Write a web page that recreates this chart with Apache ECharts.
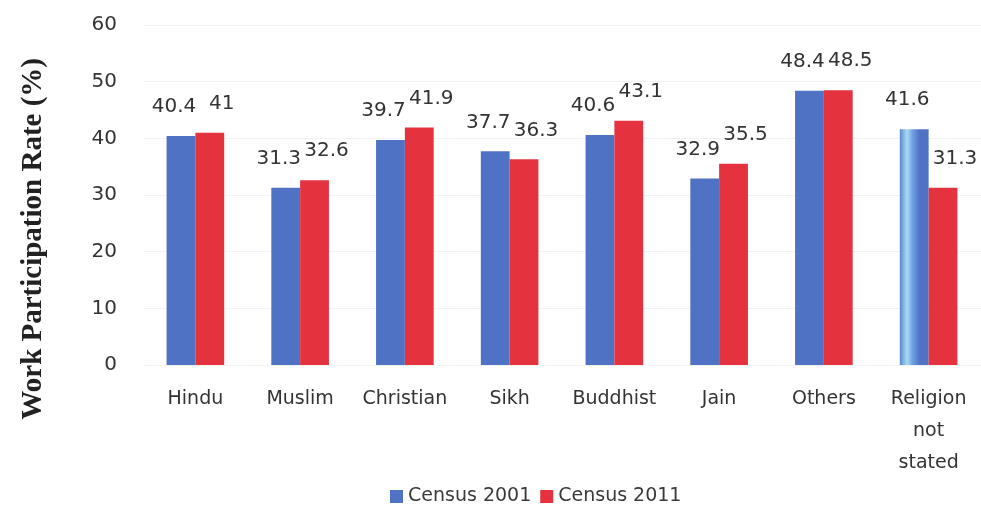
<!DOCTYPE html>
<html>
<head>
<meta charset="utf-8">
<script src="https://cdn.jsdelivr.net/npm/echarts@6/dist/echarts.min.js"></script>
<style>
  html, body { margin: 0; padding: 0; background: #fff; }
  #chart { width: 981px; height: 506px; }
</style>
</head>
<body>
<div id="chart"></div>
<script>
// Work participation rate by religion, Census 2001 vs 2011
const categories = ['Hindu', 'Muslim', 'Christian', 'Sikh', 'Buddhist', 'Jain', 'Others', 'Religion\nnot\nstated'];
const census2001 = [40.4, 31.3, 39.7, 37.7, 40.6, 32.9, 48.4, 41.6];
const census2011 = [41, 32.6, 41.9, 36.3, 43.1, 35.5, 48.5, 31.3];
const yTicks = [0, 10, 20, 30, 40, 50, 60];
const yTitle = 'Work Participation Rate (%)';

const BLUE = '#4f72c4';
const RED = '#e5323f';
const labelFont = '"DejaVu Sans", "Noto Sans", sans-serif';

// last 2001 bar carries a lighter shaded stripe
const data2001 = census2001.map((v, i) => {
  if (i === census2001.length - 1) {
    return {
      value: v,
      itemStyle: {
        color: new echarts.graphic.LinearGradient(0, 0, 1, 0, [
          { offset: 0, color: '#5a86d0' },
          { offset: 0.25, color: '#a9dcf5' },
          { offset: 0.45, color: '#6f9ee0' },
          { offset: 0.7, color: '#4f72c4' },
          { offset: 1, color: '#4f72c4' }
        ])
      }
    };
  }
  return v;
});

// value labels sit above each bar, nudged apart so neighbours don't collide
function valueLabel(dx) {
  return {
    show: true,
    position: 'top',
    distance: 19,
    offset: [dx, 0],
    fontFamily: labelFont,
    fontSize: 20,
    color: '#333'
  };
}

const chart = echarts.init(document.getElementById('chart'), null, { renderer: 'canvas' });
chart.setOption({
  animation: false,
  backgroundColor: '#ffffff',
  grid: { left: 143, right: 0, top: 25, bottom: 141 },
  legend: {
    top: 482,
    left: 385,
    itemWidth: 13,
    itemHeight: 13,
    itemGap: 9,
    icon: 'rect',
    textStyle: { fontFamily: labelFont, fontSize: 19, color: '#3a3a3a' },
    data: ['Census 2001', 'Census 2011']
  },
  graphic: [
    {
      type: 'text',
      left: 19,
      top: 58,
      rotation: Math.PI / 2,
      style: {
        text: yTitle,
        font: 'bold 29px "Liberation Serif", "DejaVu Serif", serif',
        fill: '#222'
      }
    }
  ],
  xAxis: {
    type: 'category',
    data: categories,
    axisLine: { show: false },
    axisTick: { show: false },
    axisLabel: {
      fontFamily: labelFont,
      fontSize: 19,
      color: '#333',
      margin: 18,
      lineHeight: 32,
      interval: 0
    }
  },
  yAxis: {
    type: 'value',
    min: yTicks[0],
    max: yTicks[yTicks.length - 1],
    interval: 10,
    axisLine: { show: false },
    axisTick: { show: false },
    axisLabel: {
      fontFamily: labelFont,
      fontSize: 20,
      color: '#333',
      margin: 26
    },
    splitLine: { lineStyle: { color: '#f2f2f2', width: 1 } }
  },
  series: [
    {
      name: 'Census 2001',
      type: 'bar',
      data: data2001,
      barGap: 0,
      barCategoryGap: '45%',
      itemStyle: { color: BLUE },
      label: valueLabel(-7)
    },
    {
      name: 'Census 2011',
      type: 'bar',
      data: census2011,
      itemStyle: { color: RED },
      label: valueLabel(12)
    }
  ]
});
</script>
</body>
</html>
